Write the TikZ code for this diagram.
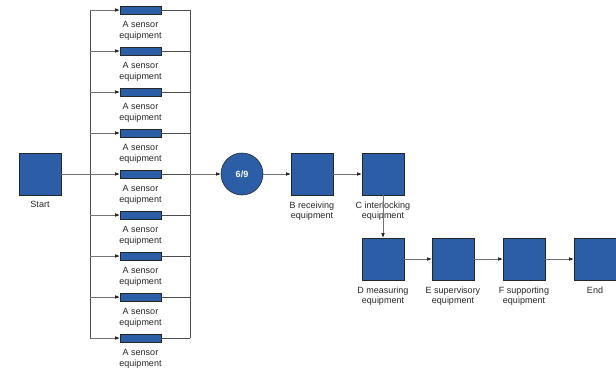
\documentclass[tikz,border=0pt]{standalone}
\usepackage{fontspec}
\setmainfont{Liberation Sans}
\usetikzlibrary{positioning,arrows.meta}
\definecolor{boxblue}{RGB}{44,94,168}
\tikzset{
  blk/.style={draw=black!85,fill=boxblue,minimum size=42pt,inner sep=0pt,line width=0.6pt},
  sens/.style={draw=black!85,fill=boxblue,minimum width=41pt,minimum height=8pt,inner sep=0pt,line width=0.6pt},
  vote/.style={circle,draw=black!85,fill=boxblue,minimum size=42pt,inner sep=0pt,line width=0.6pt,
    text=white,font=\fontsize{9}{11}\selectfont\bfseries},
  capt/.style={font=\fontsize{9}{10.5}\selectfont,align=center,inner sep=0pt,text=black!85},
  flow/.style={draw=black!55,line width=0.5pt,-{Latex[length=4.5pt,width=3.5pt,color=black!90]}},
  bus/.style={draw=black!70,line width=0.6pt},
}
\begin{document}
\begin{tikzpicture}[x=1pt,y=-1pt]
\useasboundingbox (0,0) rectangle (616,367);
% start
\node[blk] (start) at (40,174) {};
\node[capt,below=6pt of start] (start-t) {Start};
% sensors in parallel
\foreach \i in {1,...,9}{
  \node[sens] (s\i) at (140.5,{10+41*(\i-1)}) {};
  \node[capt,below=7pt of s\i] (s\i-t) {A sensor\\equipment};
}
\coordinate (bl) at (90,0);
\coordinate (br) at (190,0);
\draw[bus] (bl |- s1) -- (bl |- s9);
\draw[bus] (br |- s1) -- (br |- s9);
\draw[draw=black!55,line width=0.5pt] (start) -- (bl |- start);
\foreach \i in {1,...,9}{
  \draw[flow] (bl |- s\i) -- (s\i);
  \draw[bus] (s\i) -- (br |- s\i);
}
% voting
\node[vote] (vote) at (242,174) {6/9};
\draw[flow] (br |- vote) -- (vote);
% chain
\node[blk] (recv) at (312,174) {};
\node[capt,below=6pt of recv] (recv-t) {B receiving\\equipment};
\node[blk] (intl) at (383,174) {};
\node[capt,below=6pt of intl] (intl-t) {C interlocking\\equipment};
\node[blk] (meas) at (383,259) {};
\node[capt,below=6pt of meas] (meas-t) {D measuring\\equipment};
\node[blk] (supv) at (453,259) {};
\node[capt,below=6pt of supv] (supv-t) {E supervisory\\equipment};
\node[blk] (supp) at (524,259) {};
\node[capt,below=6pt of supp] (supp-t) {F supporting\\equipment};
\node[blk] (end) at (595,259) {};
\node[capt,below=6pt of end] (end-t) {End};
\draw[flow] (vote) -- (recv);
\draw[flow] (recv) -- (intl);
\draw[flow] (intl) -- (meas);
\draw[flow] (meas) -- (supv);
\draw[flow] (supv) -- (supp);
\draw[flow] (supp) -- (end);
\end{tikzpicture}
\end{document}
